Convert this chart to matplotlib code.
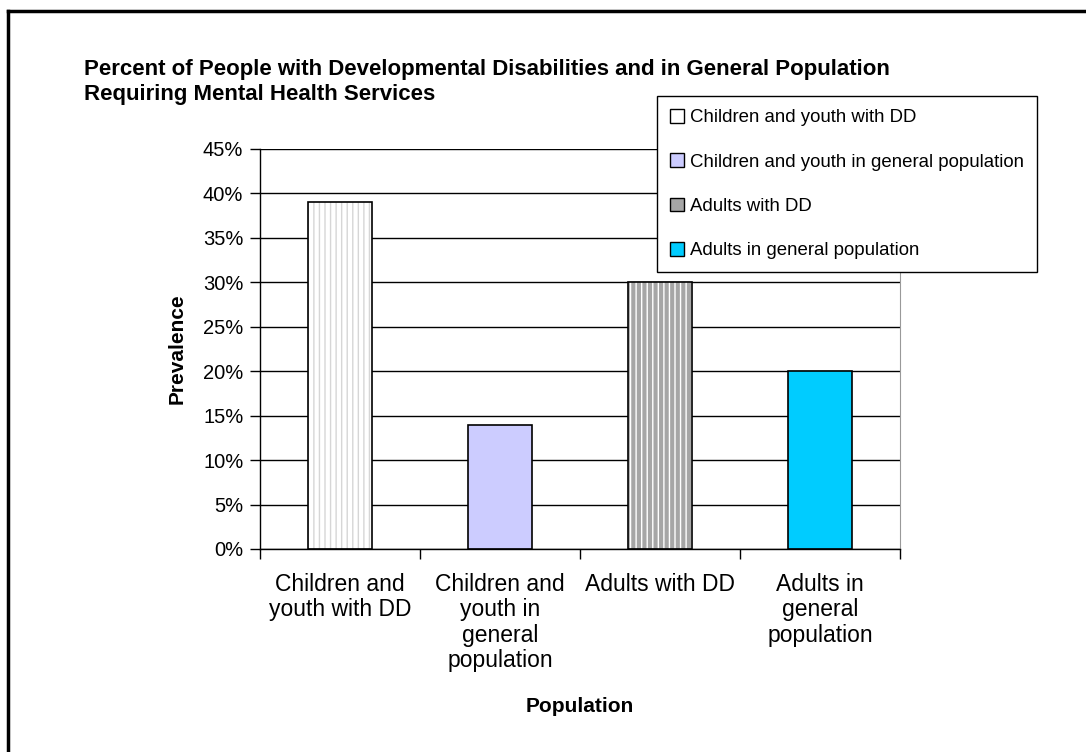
import matplotlib
matplotlib.use("Agg")
import matplotlib.pyplot as plt
from matplotlib.patches import Patch
from matplotlib.lines import Line2D

# --- data ---
categories = ["Children and\nyouth with DD",
              "Children and\nyouth in\ngeneral\npopulation",
              "Adults with DD",
              "Adults in\ngeneral\npopulation"]
legend_labels = ["Children and youth with DD",
                 "Children and youth in general population",
                 "Adults with DD",
                 "Adults in general population"]
prevalence = [39, 14, 30, 20]

face_colors = ["#ffffff", "#ccccff", "#a6a6a6", "#00ccff"]
hatch_colors = ["#d6d6d6", None, "#ffffff", None]

plt.rcParams['font.family'] = ['Liberation Sans', 'DejaVu Sans']
plt.rcParams['hatch.linewidth'] = 1.0

W, H = 1086, 752
fig = plt.figure(figsize=(W / 100, H / 100), dpi=100)
ax = fig.add_axes([260 / W, 1 - 549 / H, 640 / W, 400 / H])

x = list(range(len(categories)))

# gridlines behind the bars
ax.set_axisbelow(True)
ax.yaxis.grid(True, color="black", linewidth=1)

# fill + stripes, then outline on top
for i, v in enumerate(prevalence):
    if hatch_colors[i]:
        ax.bar(x[i], v, width=0.4, color=face_colors[i], hatch="|||",
               edgecolor=hatch_colors[i], linewidth=0, zorder=2)
    else:
        ax.bar(x[i], v, width=0.4, color=face_colors[i], linewidth=0, zorder=2)
ax.bar(x, prevalence, width=0.4, fill=False, edgecolor="black", linewidth=1.2, zorder=3)

ax.set_xlim(-0.5, len(categories) - 0.5)
ax.set_ylim(0, 45)
ax.set_yticks(range(0, 50, 5))
ax.set_yticklabels([f"{t}%" for t in range(0, 50, 5)], fontsize=14.5)

# category labels centred, ticks on category boundaries
ax.set_xticks(x)
ax.set_xticklabels(categories, fontsize=16.5, linespacing=1.14)
ax.tick_params(axis='x', which='major', length=0, pad=17)
ax.set_xticks([i - 0.5 for i in range(len(categories) + 1)], minor=True)
ax.tick_params(axis='x', which='minor', length=7, width=1, direction='out')
ax.tick_params(axis='y', length=7, width=1, direction='out', pad=5)

ax.spines['top'].set_visible(False)
ax.spines['right'].set_color("#999999")
ax.spines['left'].set_linewidth(1)
ax.spines['bottom'].set_linewidth(1)

ax.set_xlabel("Population", fontsize=15, fontweight='bold', labelpad=18)
ax.set_ylabel("Prevalence", fontsize=15, fontweight='bold', labelpad=12)

fig.text(84 / W, 1 - 82 / H,
         "Percent of People with Developmental Disabilities and in General Population\n"
         "Requiring Mental Health Services",
         fontsize=16, fontweight='bold', ha='left', va='center', linespacing=1.25)

# legend
handles = [Patch(facecolor=c, edgecolor="black", linewidth=1) for c in face_colors]
leg = fig.legend(handles, legend_labels, loc='upper left',
                 bbox_to_anchor=(657 / W, 1 - 96 / H), bbox_transform=fig.transFigure,
                 fontsize=13.4, frameon=True, fancybox=False, edgecolor="black",
                 framealpha=1, handlelength=0.75, handleheight=0.75, handletextpad=0.3,
                 labelspacing=1.45, borderpad=0.7, borderaxespad=0)
leg.get_frame().set_linewidth(1)

# outer chart border (left and top edges visible)
fig.add_artist(Line2D([8 / W, 8 / W], [0, 1 - 11 / H], transform=fig.transFigure,
                      color="black", linewidth=2.5))
fig.add_artist(Line2D([8 / W, 1], [1 - 11 / H, 1 - 11 / H], transform=fig.transFigure,
                      color="black", linewidth=2.5))

fig.savefig("out.png", dpi=100, facecolor="white")
